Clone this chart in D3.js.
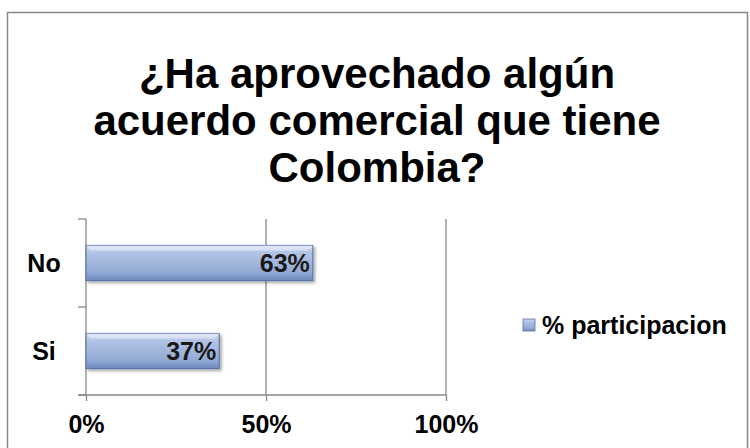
<!DOCTYPE html>
<html>
<head>
<meta charset="utf-8">
<script src="https://cdn.jsdelivr.net/npm/d3@7"></script>
<style>
  body { margin: 0; background: #fff; }
  svg { font-family: "Liberation Sans", Arial, sans-serif; font-weight: bold; }
</style>
</head>
<body>
<script>
// chart data
const categories = ['Si', 'No'];
const values = [0.37, 0.63];
const labels = ['37%', '63%'];
const xTicks = [0, 0.5, 1];
const seriesName = '% participacion';
const titleLines = ['¿Ha aprovechado algún', 'acuerdo comercial que tiene', 'Colombia?'];

const svg = d3.select('body').append('svg')
    .attr('width', 750)
    .attr('height', 448);

const defs = svg.append('defs');
const grad = defs.append('linearGradient')
    .attr('id', 'barGrad')
    .attr('x1', 0).attr('y1', 0).attr('x2', 0).attr('y2', 1);
grad.append('stop').attr('offset', '0%').attr('stop-color', '#d3ddef');
grad.append('stop').attr('offset', '20%').attr('stop-color', '#b3c4e4');
grad.append('stop').attr('offset', '75%').attr('stop-color', '#93abd6');
grad.append('stop').attr('offset', '100%').attr('stop-color', '#7089bd');

const shadow = defs.append('filter').attr('id', 'shadow')
    .attr('x', '-10%').attr('y', '-20%').attr('width', '130%').attr('height', '160%');
shadow.append('feDropShadow')
    .attr('dx', 2).attr('dy', 2).attr('stdDeviation', 1.5)
    .attr('flood-color', '#000').attr('flood-opacity', 0.35);

// outer frame
svg.append('rect')
    .attr('x', 7.5).attr('y', 12.5)
    .attr('width', 740).attr('height', 450)
    .attr('fill', 'none')
    .attr('stroke', '#888')
    .attr('stroke-width', 1.5);

// title
svg.append('text')
    .attr('text-anchor', 'middle')
    .attr('font-size', 42)
    .selectAll('tspan')
    .data(titleLines)
    .enter().append('tspan')
    .attr('x', 377)
    .attr('y', (d, i) => 88 + i * 47)
    .text(d => d);

const margin = { left: 86, top: 219, right: 304, bottom: 53 };
const width = 750 - margin.left - margin.right;
const height = 448 - margin.top - margin.bottom;

const chart = svg.append('g')
    .attr('transform', `translate(${margin.left},${margin.top})`);

const xScale = d3.scaleLinear().domain([0, 1]).range([0, width]);
const yScale = d3.scaleBand()
    .domain(categories)
    .range([height, 0])
    .paddingInner(0.6)
    .paddingOuter(0.3);

// gridlines
chart.selectAll('.grid')
    .data(xTicks.filter(d => d > 0))
    .enter().append('line')
    .attr('class', 'grid')
    .attr('x1', d => xScale(d)).attr('x2', d => xScale(d))
    .attr('y1', 0).attr('y2', height)
    .attr('stroke', '#888').attr('stroke-width', 1.3);

// x axis
const xAxis = chart.append('g')
    .attr('transform', `translate(0,${height})`)
    .call(d3.axisBottom(xScale).tickValues(xTicks).tickFormat(d3.format('.0%')).tickSize(6).tickPadding(14).tickSizeOuter(0));
xAxis.select('.domain').remove();
xAxis.append('line')
    .attr('x1', -8).attr('x2', width)
    .attr('stroke', '#888').attr('stroke-width', 1.3);
xAxis.selectAll('line').attr('stroke', '#888').attr('stroke-width', 1.3);
xAxis.selectAll('text')
    .attr('font-size', 25)
    .attr('font-family', '"Liberation Sans", Arial, sans-serif')
    .attr('font-weight', 'bold')
    .attr('fill', '#000');

// y axis
const yAxis = chart.append('g');
yAxis.append('line')
    .attr('x1', 0).attr('x2', 0).attr('y1', 0).attr('y2', height)
    .attr('stroke', '#888').attr('stroke-width', 1.3);
const yEdges = [0, yScale.step(), height];
yAxis.selectAll('.ytick')
    .data(yEdges)
    .enter().append('line')
    .attr('class', 'ytick')
    .attr('x1', -8).attr('x2', 0)
    .attr('y1', d => d).attr('y2', d => d)
    .attr('stroke', '#888').attr('stroke-width', 1.3);
yAxis.selectAll('.ylabel')
    .data(categories)
    .enter().append('text')
    .attr('class', 'ylabel')
    .attr('x', -42)
    .attr('y', d => yScale(d) + yScale.bandwidth() / 2)
    .attr('dy', '0.35em')
    .attr('text-anchor', 'middle')
    .attr('font-size', 25)
    .text(d => d);

// bars
const bars = chart.selectAll('.bar')
    .data(categories)
    .enter().append('g')
    .attr('class', 'bar');

bars.append('rect')
    .attr('x', 0)
    .attr('y', d => yScale(d))
    .attr('width', (d, i) => xScale(values[i]))
    .attr('height', yScale.bandwidth())
    .attr('fill', 'url(#barGrad)')
    .attr('stroke', '#5571a3')
    .attr('stroke-width', 1)
    .attr('filter', 'url(#shadow)');

// bevel highlight on top
bars.append('path')
    .attr('d', (d, i) => {
        const w = xScale(values[i]), y = yScale(d);
        return `M0,${y} L${w},${y} L${w - 5},${y + 5} L5,${y + 5} Z`;
    })
    .attr('fill', '#e3eaf6')
    .attr('opacity', 0.7);

bars.append('text')
    .attr('x', (d, i) => xScale(values[i]) - 3)
    .attr('y', d => yScale(d) + yScale.bandwidth() / 2)
    .attr('dy', '0.36em')
    .attr('text-anchor', 'end')
    .attr('font-size', 25)
    .attr('fill', '#1a1a1a')
    .text((d, i) => labels[i]);

// legend
const legend = svg.append('g').attr('transform', 'translate(523,319)');
legend.append('rect')
    .attr('width', 12).attr('height', 12)
    .attr('fill', 'url(#barGrad)')
    .attr('stroke', '#5571a3').attr('stroke-width', 0.8);
legend.append('text')
    .attr('x', 19).attr('y', 6)
    .attr('dy', '0.36em')
    .attr('font-size', 25)
    .text(seriesName);
</script>
</body>
</html>
